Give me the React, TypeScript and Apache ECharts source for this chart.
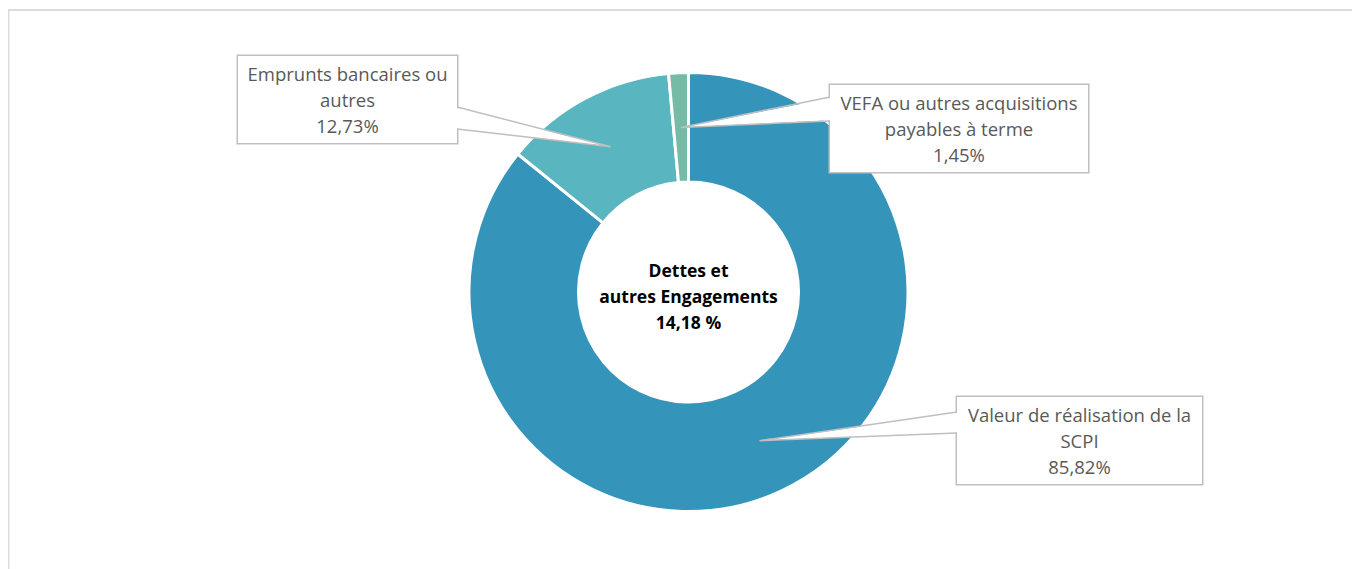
import React, { useEffect, useRef } from "react";
import * as echarts from "echarts";

const categories = [
  "Valeur de réalisation de la\nSCPI",
  "Emprunts bancaires ou\nautres",
  "VEFA ou autres acquisitions\npayables à terme",
];
const values = [85.82, 12.73, 1.45];
const colors = ["#3594BA", "#59B5BF", "#75BBA5"];
const centerTitle = "Dettes et\nautres Engagements";

// layout (chart pixel coords)
const CX = 680.5;
const CY = 284;
const R_IN = 110;
const R_OUT = 219.5;
// label boxes: [centerX, top, width]
const boxes = [
  [1071.5, 389, 245],
  [339.5, 48, 219],
  [951, 77, 258],
];
// wedge bases: [edgeX, y1, y2, inwardDir]
const wedgeBases = [
  [949, 404, 425, 1],
  [449, 99, 121, -1],
  [822, 89, 113, 1],
];

const FONT = "'Open Sans', sans-serif";

function fmt(v: number, sep = "") {
  return v.toFixed(2).replace(".", ",") + sep + "%";
}

export default function App() {
  const ref = useRef<HTMLDivElement>(null);
  useEffect(() => {
    document.documentElement.style.overflow = "hidden";
    document.body.style.overflow = "hidden";
    const chart = echarts.init(ref.current!, null, { renderer: "svg" });
    const total = values.reduce((a, b) => a + b, 0);
    const rMid = (R_IN + R_OUT) / 2;
    let cum = 0;
    const wedges: any[] = [];
    values.forEach((v, i) => {
      const ang = ((cum + v / 2) / total) * Math.PI * 2;
      cum += v;
      const ax = CX + rMid * Math.sin(ang);
      const ay = CY - rMid * Math.cos(ang);
      const [bx, y1, y2, dir] = wedgeBases[i];
      wedges.push({
        type: "polygon",
        z: 100,
        shape: { points: [[bx + dir * 2, y1 + 0.8], [ax, ay], [bx + dir * 2, y2 - 0.8]] },
        style: { fill: "#ffffff", stroke: "none" },
        silent: true,
      });
      wedges.push({
        type: "polyline",
        z: 101,
        shape: { points: [[bx, y1], [ax, ay], [bx, y2]] },
        style: { fill: "none", stroke: "#BFBFBF", lineWidth: 1.5 },
        silent: true,
      });
    });
    const debts = values.slice(1).reduce((a, b) => a + b, 0);

    chart.setOption({
      animation: false,
      backgroundColor: "#ffffff",
      graphic: [
        ...wedges,
        {
          type: "line",
          z: 0,
          silent: true,
          shape: { x1: 0, y1: 2, x2: 1344, y2: 2 },
          style: { stroke: "#DCDCDC", lineWidth: 2 },
        },
        {
          type: "line",
          z: 0,
          silent: true,
          shape: { x1: 0.5, y1: 1, x2: 0.5, y2: 561 },
          style: { stroke: "#DCDCDC", lineWidth: 2 },
        },
        {
          type: "text",
          z: 50,
          x: CX,
          y: CY + 4,
          style: {
            text: centerTitle + "\n" + fmt(debts, " "),
            align: "center",
            verticalAlign: "middle",
            font: "bold 17.5px " + FONT,
            lineHeight: 26,
            fill: "#000000",
          },
        },
      ],
      series: [
        {
          type: "pie",
          center: [CX, CY],
          radius: [R_IN, R_OUT],
          startAngle: 90,
          clockwise: true,
          avoidLabelOverlap: false,
          itemStyle: { borderColor: "#ffffff", borderWidth: 3 },
          labelLine: { show: false },
          label: {
            show: true,
            position: "outside",
            formatter: (p: any) => p.name + "\n" + fmt(p.value),
            fontFamily: FONT,
            fontSize: 18.5,
            lineHeight: 26,
            color: "#595959",
            backgroundColor: "#ffffff",
            borderColor: "#BFBFBF",
            borderWidth: 1.5,
            padding: [4.5, 0],
            align: "center",
          },
          labelLayout: (params: any) => {
            const b = boxes[params.dataIndex];
            return {
              x: b[0],
              y: b[1],
              align: "center",
              verticalAlign: "top",
              width: b[2],
            };
          },
          emphasis: { disabled: true },
          data: categories.map((c, i) => ({
            name: c,
            value: values[i],
            itemStyle: { color: colors[i] },
            label: { width: boxes[i][2] },
          })),
        },
      ],
    });
    return () => chart.dispose();
  }, []);
  return (
    <div style={{ position: "fixed", left: 8, top: 8, width: 1344, height: 561, overflow: "hidden" }}>
      <div ref={ref} style={{ position: "absolute", left: 0, top: 0, width: 1344, height: 561 }} />
    </div>
  );
}
